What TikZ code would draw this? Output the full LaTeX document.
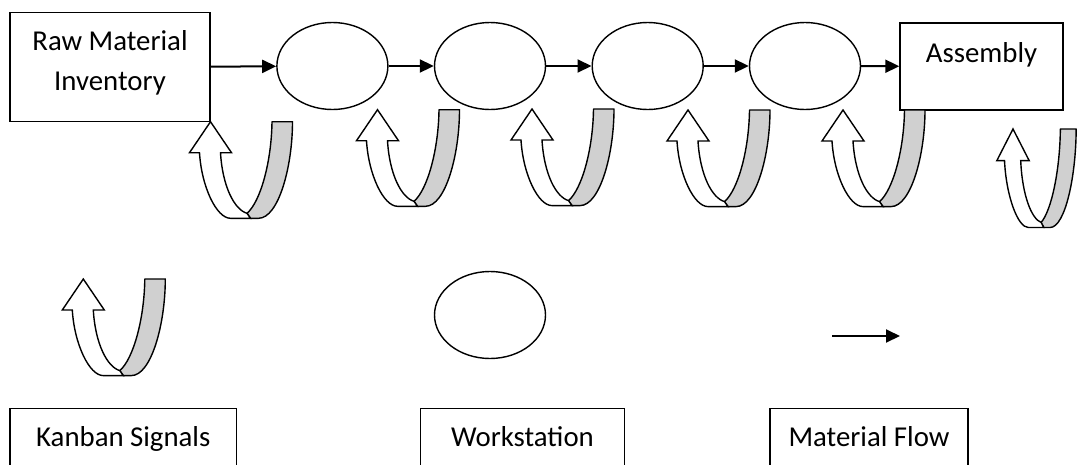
\documentclass[tikz,border=0pt]{standalone}
\usepackage{fontspec}
\setmainfont{Carlito}
\usetikzlibrary{arrows.meta,shapes.geometric}
\definecolor{bandgray}{RGB}{208,208,208}
\tikzset{
  box/.style={draw, line width=1.4pt, inner sep=0pt},
  station/.style={draw, ellipse, line width=1.4pt, minimum width=111pt,
    minimum height=87pt, inner sep=0pt},
  flow/.style={line width=2pt, -{Triangle[length=14pt,width=13pt]}},
  lbl/.style={font=\fontsize{28.8}{40}\selectfont, anchor=base, align=center,
    inner sep=0pt},
  % U-turn kanban signal: grey back of the band, white front with the up arrow
  kanban/.pic={
    \filldraw[fill=bandgray, line width=1.4pt, line join=round]
      (36.5,91.6) .. controls (50,80) and (61,40) .. (61.5,0) -- (82,0)
      .. controls (82,45) and (68,96.6) .. (48,96.6) -- (40,96.6) -- cycle;
    \filldraw[fill=white, line width=1.4pt, line join=miter]
      (10,31) -- (21,31) -- (0,0) -- (-21,31) -- (-11,31)
      .. controls (-9,65) and (6,96.6) .. (20,96.6) -- (40,96.6)
      -- (36.5,91.6) .. controls (24,88) and (12,65) .. (10,31) -- cycle;
  }
}
\begin{document}
\begin{tikzpicture}[x=1pt,y=-1pt]
\useasboundingbox (0,0) rectangle (1077,464);
\clip (0,0) rectangle (1077,464);

% production line
\node[box, minimum width=200pt, minimum height=109pt] (raw) at (110,67.2) {};
% multi-line text: the base anchor sits on the last line
\node[lbl] (rawtext) at (110,90) {Raw Material\\Inventory};
\node[station] (e1) at (332.4,66) {};
\node[station] (e2) at (490,66) {};
\node[station] (e3) at (647.7,66) {};
\node[station] (e4) at (805,66) {};
\node[box, minimum width=163pt, minimum height=87pt] (asm) at (981.5,66.5) {};
\node[lbl] (asmtext) at (981.5,62) {Assembly};

\draw[flow] (raw) -- (e1);
\draw[flow] (e1) -- (e2);
\draw[flow] (e2) -- (e3);
\draw[flow] (e3) -- (e4);
\draw[flow] (e4) -- (asm);

% kanban loops under the line
\pic (k1) at (210.5,121.7) {kanban};
\pic (k2) at (377.5,109.7) {kanban};
\pic (k3) at (532,109) {kanban};
\pic (k4) at (688,110) {kanban};
\pic (k5) at (843,110) {kanban};
\pic[xscale=.77, yscale=1.02] (k6) at (1013,129) {kanban};

% legend
\pic (kl) at (83.3,279) {kanban};
\node[station] (el) at (490,315) {};
\coordinate (fa) at (832,336);
\coordinate (fb) at (900,336);
\draw[flow] (fa) -- (fb);

\node[box, minimum width=226.7pt, minimum height=66.5pt] (lk) at (123.3,441.7) {};
\node[lbl] (lktext) at (123.3,446.7) {Kanban Signals};
\node[box, minimum width=203.6pt, minimum height=66.5pt] (lw) at (522.5,441.7) {};
\node[lbl] (lwtext) at (522.5,446.7) {Workstation};
\node[box, minimum width=198pt, minimum height=66.5pt] (lm) at (869,441.7) {};
\node[lbl] (lmtext) at (869,446.7) {Material Flow};
\end{tikzpicture}
\end{document}
